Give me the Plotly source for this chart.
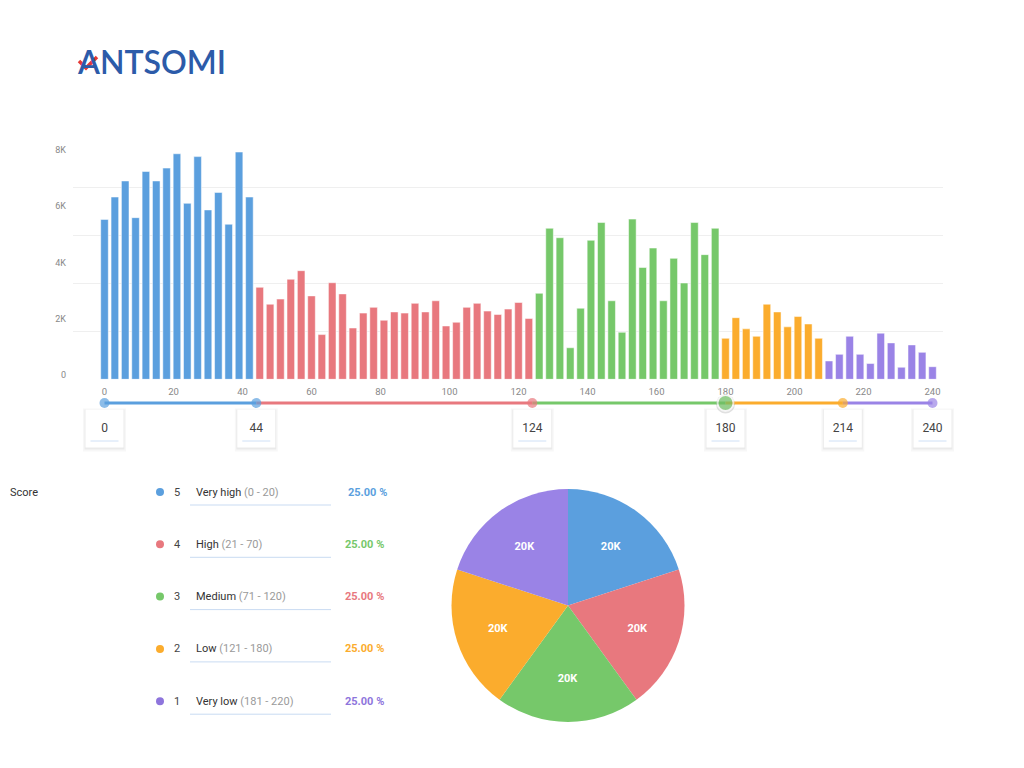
import numpy as np
import plotly.graph_objects as go

W, H = 1024, 768

# ---------------- data ----------------
SEG_NAMES = ['Very high', 'High', 'Medium', 'Low', 'Very low']
SEG_SCORES = [5, 4, 3, 2, 1]
SEG_RANGES = ['(0 - 20)', '(21 - 70)', '(71 - 120)', '(121 - 180)', '(181 - 220)']
SEG_PCTS = ['25.00 %', '25.00 %', '25.00 %', '25.00 %', '25.00 %']
PIE_VALUES = [20000, 20000, 20000, 20000, 20000]

BIN_STEP = 3
VERY_HIGH = [5580, 6360, 6920, 5640, 7250, 6920, 7370, 7870, 6140, 7770, 5910, 6520, 5410, 7930, 6360]
HIGH = [3210, 2620, 2800, 3490, 3790, 2910, 1560, 3370, 2980, 1790, 2310, 2510, 2060, 2350,
        2310, 2650, 2350, 2740, 1860, 1990, 2510, 2650, 2380, 2260, 2450, 2680, 2120]
MEDIUM = [3000, 5270, 4940, 1100, 2480, 4850, 5470, 2740, 1640, 5590, 3900, 4580, 2740, 4220,
          3360, 5470, 4350, 5270]
LOW = [1430, 2150, 1760, 1500, 2620, 2350, 1830, 2190, 1930, 1430]
VERY_LOW = [640, 870, 1500, 870, 550, 1610, 1270, 420, 1200, 940, 440]
GROUPS = [VERY_HIGH, HIGH, MEDIUM, LOW, VERY_LOW]

SLIDER_STOPS = [0, 44, 124, 180, 214, 240]
ACTIVE_STOP = 180
X_TICKS = [0, 20, 40, 60, 80, 100, 120, 140, 160, 180, 200, 220, 240]
Y_TICKS = [0, 2000, 4000, 6000, 8000]
Y_TICK_TEXT = ['0', '2K', '4K', '6K', '8K']

# ---------------- styles ----------------
SEG_COLORS = ['#5B9FDE', '#E8787E', '#76C86A', '#FBAC2D', '#9A83E6']
DOT_COLORS = ['#5B9FDE', '#E8787E', '#76C86A', '#FBAC2D', '#8E75DC']
PCT_COLORS = ['#5B9FDE', '#76C86A', '#E8787E', '#FBAC2D', '#8E75DC']
FONT = 'Roboto'


def px(x):
    return x / W


def py(y):
    return 1 - y / H


# bar-plot geometry (pixels)
PLOT_L, PLOT_R, PLOT_T, PLOT_B = 73, 943, 140, 379.3
X0_PX, X240_PX = 104.5, 932.5
PX_PER_UNIT = (X240_PX - X0_PX) / 240
X_RANGE = [(PLOT_L - X0_PX) / PX_PER_UNIT, (PLOT_R - X0_PX) / PX_PER_UNIT]
Y_MAX = 8350
LABEL_RANGE = [-153, 8356]

# slider axis: 1 unit = 1 pixel, bottom at pixel 453
SL_T, SL_B = 393, 453


def sy(pix):
    return SL_B - pix


fig = go.Figure()

# ---- bars ----
start = 0
for name, vals, col in zip(SEG_NAMES, GROUPS, SEG_COLORS):
    xs = [(start + i) * BIN_STEP for i in range(len(vals))]
    start += len(vals)
    fig.add_trace(go.Bar(
        x=xs, y=vals, width=2.2, name=name,
        marker=dict(color=col, line=dict(color='rgba(255,255,255,0.85)', width=0.6)),
        showlegend=False, hoverinfo='x+y'))

# dummy trace for label axis
fig.add_trace(go.Scatter(x=[None], y=[None], yaxis='y2', showlegend=False, hoverinfo='skip'))

# ---- slider boxes ----
fig.add_trace(go.Scatter(
    x=SLIDER_STOPS, y=[sy(428.5) - 1.5] * len(SLIDER_STOPS), yaxis='y3', mode='markers',
    marker=dict(symbol='square', size=43, color='rgba(0,0,0,0.03)', line=dict(width=0)),
    cliponaxis=False, showlegend=False, hoverinfo='skip'))
fig.add_trace(go.Scatter(
    x=SLIDER_STOPS, y=[sy(428.5) - 1] * len(SLIDER_STOPS), yaxis='y3', mode='markers',
    marker=dict(symbol='square', size=40, color='rgba(0,0,0,0.05)', line=dict(width=0)),
    cliponaxis=False, showlegend=False, hoverinfo='skip'))
fig.add_trace(go.Scatter(
    x=SLIDER_STOPS, y=[sy(428.5)] * len(SLIDER_STOPS), yaxis='y3', mode='markers+text',
    marker=dict(symbol='square', size=38, color='white', line=dict(width=0)),
    text=[str(v) for v in SLIDER_STOPS], textposition='middle center',
    textfont=dict(family=FONT, size=12, color='#444'),
    cliponaxis=False, showlegend=False, hoverinfo='skip'))
fig.add_trace(go.Scatter(
    x=SLIDER_STOPS, y=[sy(441)] * len(SLIDER_STOPS), yaxis='y3', mode='markers',
    marker=dict(symbol='line-ew', size=20, line=dict(color='#CFE0F6', width=1)),
    cliponaxis=False, showlegend=False, hoverinfo='skip'))

# ---- slider line segments ----
for i, col in enumerate(SEG_COLORS):
    fig.add_trace(go.Scatter(
        x=[SLIDER_STOPS[i], SLIDER_STOPS[i + 1]], y=[sy(403)] * 2, yaxis='y3',
        mode='lines', line=dict(color=col, width=3),
        cliponaxis=False, showlegend=False, hoverinfo='skip'))

# ---- slider dots ----
stop_colors = [SEG_COLORS[0]] + SEG_COLORS
sizes = [16 if v == ACTIVE_STOP else 10 for v in SLIDER_STOPS]
fig.add_trace(go.Scatter(
    x=[ACTIVE_STOP], y=[sy(403) - 1], yaxis='y3', mode='markers',
    marker=dict(size=19, color='rgba(0,0,0,0.12)', line=dict(width=0)),
    cliponaxis=False, showlegend=False, hoverinfo='skip'))
fig.add_trace(go.Scatter(
    x=SLIDER_STOPS, y=[sy(403)] * len(SLIDER_STOPS), yaxis='y3', mode='markers',
    marker=dict(size=sizes, color=stop_colors,
                line=dict(color='white', width=[2 if v == ACTIVE_STOP else 0 for v in SLIDER_STOPS])),
    cliponaxis=False, showlegend=False, hoverinfo='x'))

# ---- pie ----
fig.add_trace(go.Pie(
    values=PIE_VALUES, labels=SEG_NAMES, sort=False, direction='clockwise', rotation=0,
    marker=dict(colors=SEG_COLORS, line=dict(color='white', width=0)),
    text=[f'{v // 1000}K' for v in PIE_VALUES], textinfo='text', textposition='inside',
    insidetextorientation='horizontal',
    textfont=dict(family=FONT, size=11, color='white', weight='bold'),
    domain=dict(x=[px(451), px(685)], y=[py(722), py(489)]),
    showlegend=False, hoverinfo='label+value'))

shapes = []
annotations = []

# ---- legend table ----
annotations.append(dict(x=px(8), y=py(492), xref='paper', yref='paper', xanchor='left',
                        yanchor='middle', text='Score', showarrow=False,
                        font=dict(family=FONT, size=11, color='#333')))
ROW_Y = [492 + 52.3 * i for i in range(5)]
for i in range(5):
    ry = ROW_Y[i]
    shapes.append(dict(type='circle', xref='paper', yref='paper',
                       x0=px(156), x1=px(164), y0=py(ry + 4), y1=py(ry - 4),
                       fillcolor=DOT_COLORS[i], line=dict(width=0)))
    annotations.append(dict(x=px(177), y=py(ry), xref='paper', yref='paper', xanchor='center',
                            yanchor='middle', text=str(SEG_SCORES[i]), showarrow=False,
                            font=dict(family=FONT, size=11, color='#444')))
    annotations.append(dict(x=px(194), y=py(ry), xref='paper', yref='paper', xanchor='left',
                            yanchor='middle',
                            text=f"{SEG_NAMES[i]} <span style='color:#9a9a9a'>{SEG_RANGES[i]}</span>",
                            showarrow=False, font=dict(family=FONT, size=11, color='#333')))
    shapes.append(dict(type='line', xref='paper', yref='paper', x0=px(190), x1=px(331),
                       y0=py(ry + 13), y1=py(ry + 13), line=dict(color='#C9DBF2', width=1)))
    annotations.append(dict(x=px(389 if i == 0 else 386), y=py(ry), xref='paper', yref='paper',
                            xanchor='right', yanchor='middle', text=f'<b>{SEG_PCTS[i]}</b>',
                            showarrow=False,
                            font=dict(family=FONT, size=11, color=PCT_COLORS[i])))

# ---- logo ----
annotations.append(dict(x=px(75), y=py(62), xref='paper', yref='paper', xanchor='left',
                        yanchor='middle', text='ANTSOMI', showarrow=False,
                        font=dict(family='Lato', size=32, color='#2C5BA9', weight=600)))
shapes.append(dict(type='path', xref='paper', yref='paper',
                   path=f'M {px(79)},{py(61)} L {px(86)},{py(68)} L {px(97)},{py(57)}',
                   line=dict(color='#E53935', width=3.5)))

fig.update_layout(
    width=W, height=H, margin=dict(l=0, r=0, t=0, b=0),
    paper_bgcolor='white', plot_bgcolor='rgba(0,0,0,0)',
    barmode='overlay', showlegend=False,
    font=dict(family=FONT, size=9, color='#888'),
    xaxis=dict(domain=[px(PLOT_L), px(PLOT_R)], range=X_RANGE, anchor='y',
               tickvals=X_TICKS, showgrid=False, zeroline=False, showline=False,
               ticks='', ticklabelstandoff=5,
               tickfont=dict(family=FONT, size=9.5, color='#888'), fixedrange=True),
    yaxis=dict(domain=[py(PLOT_B), py(PLOT_T)], range=[0, Y_MAX], anchor='x',
               tickvals=list(np.linspace(0, Y_MAX, 6)), showticklabels=False,
               showgrid=True, gridcolor='#EFEFEF', gridwidth=1, zeroline=False, fixedrange=True),
    yaxis2=dict(overlaying='y', side='left', range=LABEL_RANGE, tickvals=Y_TICKS,
                ticktext=Y_TICK_TEXT, showgrid=False, zeroline=False, ticks='',
                ticklabelstandoff=6, tickfont=dict(family=FONT, size=9, color='#888'),
                fixedrange=True),
    yaxis3=dict(domain=[py(SL_B), py(SL_T)], range=[0, SL_B - SL_T], anchor='x',
                visible=False, fixedrange=True),
    shapes=shapes, annotations=annotations,
)

fig.write_html('out.html', config={'displayModeBar': False},
               post_script="document.body.style.margin='0';document.body.style.overflow='hidden';")
